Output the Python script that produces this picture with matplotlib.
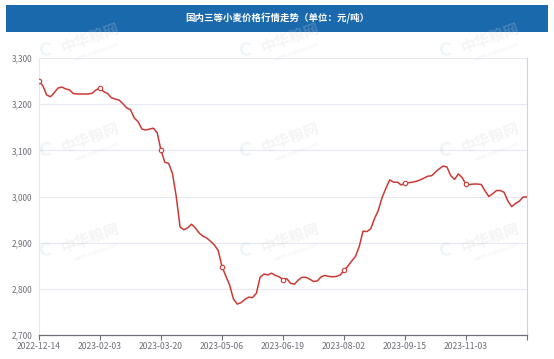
import matplotlib
matplotlib.use("Agg")
import matplotlib.pyplot as plt
from matplotlib.patches import Rectangle

plt.rcParams['font.family'] = ['Noto Sans CJK SC', 'DejaVu Sans']

title = "国内三等小麦价格行情走势（单位：元/吨）"
tick_labels = ["2022-12-14", "2023-02-03", "2023-03-20", "2023-05-06",
               "2023-06-19", "2023-08-02", "2023-09-15", "2023-11-03", ""]
label_step = 16

# prices, one per category step
prices = [
    3250, 3240, 3220, 3216, 3225, 3235, 3237, 3233, 3231, 3223,
    3222, 3222, 3222, 3222, 3224, 3231, 3235, 3227, 3223, 3214,
    3211, 3209, 3201, 3192, 3188, 3170, 3162, 3146, 3144, 3146,
    3148, 3138, 3100, 3074, 3072, 3050, 3000, 2934, 2928, 2932,
    2940, 2932, 2921, 2914, 2910, 2903, 2895, 2883, 2848, 2828,
    2808, 2778, 2767, 2770, 2777, 2782, 2781, 2790, 2825, 2832,
    2830, 2834, 2829, 2826, 2820, 2822, 2812, 2810, 2819, 2825,
    2825, 2821, 2816, 2817, 2826, 2829, 2827, 2826, 2827, 2830,
    2840, 2849, 2860, 2870, 2892, 2925, 2924, 2930, 2952, 2970,
    2998, 3018, 3036, 3031, 3031, 3025, 3029, 3030, 3031, 3033,
    3036, 3040, 3044, 3045, 3053, 3060, 3066, 3064, 3045, 3037,
    3049, 3041, 3026, 3026, 3027, 3027, 3026, 3012, 3000, 3006,
    3013, 3013, 3009, 2990, 2978, 2985, 2990, 2999, 2999,
]
x = list(range(len(prices)))

W, H = 554, 359
fig = plt.figure(figsize=(W / 100, H / 100), dpi=100)
fig.patch.set_facecolor("white")

# title bar
fig.patches.append(Rectangle((6 / W, 1 - 32 / H), 542 / W, 27 / H,
                             transform=fig.transFigure, facecolor="#1b69ad",
                             edgecolor="none", zorder=0))
fig.text(277 / W, 1 - 18.5 / H, title, color="white", fontsize=6.8,
         fontweight="bold", ha="center", va="center")

ax = fig.add_axes([39 / W, 1 - 335 / H, 488 / W, 277 / H])
ax.plot(x, prices, color="#cc3a35", lw=1.1, zorder=3)
mk = x[:-1:label_step]
ax.plot(mk, [prices[i] for i in mk], ls="none", marker="o", ms=3.2,
        mfc="white", mec="#cc3a35", mew=0.8, zorder=4)

ax.set_xlim(0, len(prices) - 1)
ax.set_ylim(2700, 3300)
ax.set_yticks(range(2700, 3301, 100))
ax.set_yticklabels([f"{v:,}" for v in range(2700, 3301, 100)])
ax.set_xticks(x[::label_step])
ax.set_xticklabels(tick_labels)

ax.grid(axis="y", color="#e6e9f1", lw=0.8)
ax.set_axisbelow(True)
ax.spines["top"].set_visible(False)
ax.spines["left"].set_color("#e6e9f1")
ax.spines["right"].set_color("#cfd2d8")
ax.spines["bottom"].set_color("#6e7079")
ax.spines["bottom"].set_linewidth(0.9)
ax.tick_params(axis="y", length=0, pad=5, labelsize=6, labelcolor="#6e7079")
ax.tick_params(axis="x", length=3.5, width=0.8, color="#6e7079", pad=1.5,
               labelsize=6.2, labelcolor="#6e7079")

# faint watermarks
for yy in [50, 150, 250]:
    for xx in [45, 245, 445]:
        fig.text((xx + 45) / W, 1 - (yy - 12) / H, "中华粮网", fontsize=11,
                 fontweight="bold", color="#d0d0d0", alpha=0.22, rotation=20,
                 ha="center", va="center")
        fig.text((xx + 52) / W, 1 - (yy + 2) / H, "www.cngrain.com",
                 fontsize=4, color="#d0d0d0", alpha=0.3, rotation=20,
                 ha="center", va="center")
        fig.text(xx / W, 1 - yy / H, "C", fontsize=14, fontweight="bold",
                 color="#9cc0e4", alpha=0.15, ha="center", va="center")

fig.savefig("out.png", dpi=100)
